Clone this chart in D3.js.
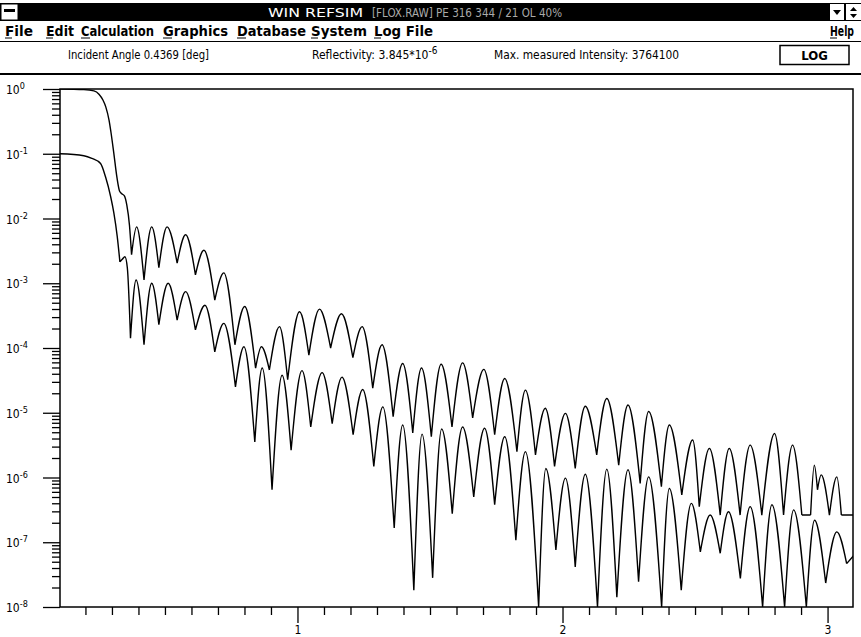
<!DOCTYPE html>
<html>
<head>
<meta charset="utf-8">
<script src="https://cdn.jsdelivr.net/npm/d3@7"></script>
<style>
  body { margin: 0; background: #fff; }
  text { font-family: "Liberation Sans Narrow", "DejaVu Sans Condensed", "Liberation Sans", sans-serif; }
</style>
</head>
<body>
<svg id="chart" width="861" height="637"></svg>
<script>
// DATA (angle in deg, reflectivity as log10 value)

const measuredAngle = [0.100, 0.194, 0.232, 0.251, 0.266, 0.277, 0.289, 0.296, 0.307, 0.319, 0.329, 0.338, 0.347, 0.356, 0.366,
  0.374, 0.393, 0.421, 0.450, 0.477, 0.508, 0.546, 0.578, 0.615, 0.647, 0.688, 0.722, 0.764, 0.801, 0.842, 0.864, 0.894, 0.932,
  0.963, 1.008, 1.043, 1.083, 1.125, 1.166, 1.209, 1.244, 1.284, 1.319, 1.361, 1.397, 1.435, 1.468, 1.505, 1.542, 1.583, 1.623,
  1.661, 1.703, 1.744, 1.782, 1.828, 1.860, 1.898, 1.935, 1.970, 2.011, 2.048, 2.086, 2.129, 2.167, 2.212, 2.247, 2.293, 2.325,
  2.373, 2.403, 2.450, 2.491, 2.516, 2.554, 2.595, 2.629, 2.670, 2.708, 2.752, 2.800, 2.834, 2.868, 2.903, 2.936, 2.950, 2.962,
  2.976, 3.007, 3.035, 3.052, 3.100]
const measuredLogR = [0, -0.01, -0.03, -0.08, -0.17, -0.28, -0.48, -0.66, -0.99, -1.37, -1.58, -1.62, -1.65, -1.79, -2.10,
  -2.56, -2.13, -2.95, -2.13, -2.76, -2.13, -2.69, -2.25, -2.87, -2.49, -3.26, -2.84, -3.95, -3.36, -4.31, -3.98, -4.34, -3.67,
  -4.49, -3.44, -4.11, -3.40, -4.00, -3.47, -4.15, -3.67, -4.62, -3.95, -5.06, -4.24, -5.31, -4.31, -5.37, -4.25, -5.22, -4.23,
  -5.08, -4.33, -5.34, -4.47, -5.60, -4.65, -5.65, -4.93, -5.83, -5.01, -5.86, -4.90, -5.65, -4.78, -5.81, -4.88, -6.09, -4.98,
  -6.14, -5.19, -6.27, -5.42, -6.45, -5.55, -6.58, -5.55, -6.58, -5.50, -6.58, -5.32, -6.58, -5.50, -6.58, -6.58, -5.81, -6.19,
  -5.96, -6.58, -5.99, -6.58, -6.58]

const simAngle = [0.100, 0.194, 0.224, 0.257, 0.276, 0.295, 0.307, 0.320, 0.330, 0.339, 0.349, 0.358,
  0.370, 0.391, 0.421, 0.450, 0.477, 0.512, 0.546, 0.578, 0.615, 0.651, 0.688, 0.722, 0.766, 0.798, 0.839, 0.867, 0.904, 0.942,
  0.976, 1.017, 1.050, 1.093, 1.131, 1.168, 1.210, 1.246, 1.288, 1.322, 1.365, 1.397, 1.439, 1.470, 1.510, 1.544, 1.584, 1.623,
  1.665, 1.706, 1.744, 1.782, 1.824, 1.860, 1.910, 1.937, 1.975, 2.011, 2.048, 2.086, 2.132, 2.167, 2.205, 2.247, 2.287, 2.325,
  2.374, 2.403, 2.448, 2.486, 2.520, 2.557, 2.595, 2.626, 2.671, 2.708, 2.755, 2.790, 2.838, 2.872, 2.920, 2.951, 2.993, 3.035,
  3.072, 3.100]
const simLogR = [-1.00, -1.03, -1.07, -1.15, -1.36, -1.66, -1.91, -2.28, -2.67, -2.63, -2.59, -2.76,
  -3.85, -2.95, -3.95, -3.00, -3.64, -3.00, -3.57, -3.13, -3.72, -3.34, -4.06, -3.62, -4.60, -3.98, -5.45, -4.31, -6.19, -4.42,
  -5.58, -4.35, -5.22, -4.38, -5.17, -4.45, -5.34, -4.64, -5.83, -4.91, -6.78, -5.19, -7.74, -5.33, -7.55, -5.25, -6.56, -5.22,
  -6.30, -5.24, -6.42, -5.37, -6.97, -5.60, -8.00, -5.86, -7.12, -6.01, -7.38, -5.95, -8.00, -5.87, -7.85, -5.88, -7.61, -5.99,
  -8.00, -6.17, -7.74, -6.40, -7.15, -6.58, -7.17, -6.53, -7.56, -6.45, -8.00, -6.42, -8.00, -6.50, -8.00, -6.66, -7.63, -6.84,
  -7.33, -7.20]

const yExponents = [0, -1, -2, -3, -4, -5, -6, -7, -8]
const xLabels = [1, 2, 3]
const menuItems = ["File", "Edit", "Calculation", "Graphics", "Database", "System", "Log File"]
const menuLeft = [5, 46, 81, 163, 237, 311, 374]
const menuWidth = [28, 28, 73, 65, 69, 56, 59]

const svg = d3.select("#chart")

// window chrome
svg.append("rect").attr("x", 0).attr("y", 3).attr("width", 861).attr("height", 18).attr("fill", "#000")
svg.append("rect").attr("x", 1).attr("y", 4).attr("width", 17).attr("height", 16).attr("fill", "#fff").attr("stroke", "#000")
svg.append("rect").attr("x", 4).attr("y", 9).attr("width", 11).attr("height", 3).attr("fill", "#000")
svg.append("rect").attr("x", 830).attr("y", 4).attr("width", 14).attr("height", 16).attr("fill", "#fff")
svg.append("rect").attr("x", 846).attr("y", 4).attr("width", 15).attr("height", 16).attr("fill", "#fff")
svg.append("path").attr("d", "M833,10 L841,10 L837,15 Z").attr("fill", "#000")
svg.append("path").attr("d", "M850,11 L857,11 L853.5,7 Z M850,14 L857,14 L853.5,18 Z").attr("fill", "#000")

svg.append("text").attr("x", 268).attr("y", 17).attr("fill", "#fff").attr("font-size", 13)
  .attr("textLength", 95).attr("lengthAdjust", "spacingAndGlyphs").text("WIN REFSIM")
svg.append("text").attr("x", 372).attr("y", 17).attr("fill", "#aaa").attr("font-size", 13)
  .attr("textLength", 190).attr("lengthAdjust", "spacingAndGlyphs").text("[FLOX.RAW]   PE 316 344 / 21 OL 40%")

const menu = svg.append("g")
menuItems.forEach((m, i) => {
  menu.append("text").attr("x", menuLeft[i]).attr("y", 36).attr("font-size", 14).attr("font-weight", "bold")
    .attr("textLength", menuWidth[i]).attr("lengthAdjust", "spacingAndGlyphs").text(m)
  menu.append("line").attr("x1", menuLeft[i]).attr("x2", menuLeft[i] + (m[0] === "C" || m[0] === "G" || m[0] === "D" ? 9 : 7))
    .attr("y1", 38).attr("y2", 38).attr("stroke", "#000")
})
menu.append("text").attr("x", 830).attr("y", 36).attr("font-size", 14).attr("font-weight", "bold")
  .attr("textLength", 24).attr("lengthAdjust", "spacingAndGlyphs").text("Help")
menu.append("line").attr("x1", 830).attr("x2", 837).attr("y1", 38).attr("y2", 38).attr("stroke", "#000")
svg.append("line").attr("x1", 0).attr("x2", 861).attr("y1", 41.5).attr("y2", 41.5).attr("stroke", "#000")

svg.append("text").attr("x", 68).attr("y", 59).attr("font-size", 12)
  .attr("textLength", 141).attr("lengthAdjust", "spacingAndGlyphs").text("Incident Angle 0.4369 [deg]")
const refl = svg.append("text").attr("x", 312).attr("y", 59).attr("font-size", 12)
refl.append("tspan").text("Reflectivity: 3.845*10")
refl.append("tspan").attr("dy", -5).attr("font-size", 10).text("-6")
svg.append("text").attr("x", 494).attr("y", 59).attr("font-size", 12)
  .attr("textLength", 185).attr("lengthAdjust", "spacingAndGlyphs").text("Max. measured Intensity: 3764100")
svg.append("rect").attr("x", 780).attr("y", 45.5).attr("width", 69).attr("height", 19).attr("fill", "none")
  .attr("stroke", "#000").attr("stroke-width", 1.5)
svg.append("text").attr("x", 814.5).attr("y", 60).attr("text-anchor", "middle").attr("font-size", 13)
  .attr("font-weight", "bold").text("LOG")
svg.append("line").attr("x1", 0).attr("x2", 861).attr("y1", 74).attr("y2", 74).attr("stroke", "#000").attr("stroke-width", 2)

// scales
const x = d3.scaleLinear().domain([0.104, 3.096]).range([60, 853])
const y = d3.scaleLog().domain([1e-8, 1]).range([607, 89])

// axes
const minorX = d3.range(2, 31).map(d => d / 10).filter(d => d % 1 !== 0)
svg.append("g").attr("transform", "translate(0,607)")
  .call(d3.axisBottom(x).tickValues(minorX).tickSize(8).tickSizeOuter(0).tickFormat(""))
  .call(g => g.select(".domain").remove())
svg.append("g").attr("transform", "translate(0,607)")
  .call(d3.axisBottom(x).tickValues(xLabels).tickSize(16).tickSizeOuter(0).tickPadding(2).tickFormat(d3.format("d")))
  .call(g => g.select(".domain").remove())
  .call(g => g.selectAll("text").attr("font-size", 12).attr("fill", "#000")
    .style("font-family", '"Liberation Sans Narrow", "DejaVu Sans Condensed", sans-serif'))

const minorY = []
yExponents.slice(1).forEach(e => { for (let k = 2; k <= 9; k++) minorY.push(k * Math.pow(10, e)) })
svg.append("g").attr("transform", "translate(60,0)")
  .call(d3.axisLeft(y).tickValues(minorY).tickSize(8).tickSizeOuter(0).tickFormat(""))
  .call(g => g.select(".domain").remove())
svg.append("g").attr("transform", "translate(60,0)")
  .call(d3.axisLeft(y).tickValues(yExponents.map(e => Math.pow(10, e))).tickSize(17).tickSizeOuter(0).tickFormat(""))
  .call(g => g.select(".domain").remove())
svg.selectAll(".tick line").attr("stroke", "#000").attr("stroke-width", 1.3)

const yLab = svg.append("g").selectAll("text").data(yExponents).join("text")
  .attr("x", 6).attr("y", d => y(Math.pow(10, d)) + 5).attr("font-size", 12)
yLab.append("tspan").text("10")
yLab.append("tspan").attr("dy", -5).attr("font-size", 9).text(d => d === 0 ? "0" : "-" + Math.abs(d))

svg.append("rect").attr("x", 60).attr("y", 89).attr("width", 793).attr("height", 518)
  .attr("fill", "none").attr("stroke", "#000").attr("stroke-width", 1.5)

// curves: round maxima, cusp minima (split the monotone curve at every minimum)
function cuspPath(xs, ls) {
  const pts = xs.map((a, i) => [x(a), y(Math.pow(10, ls[i]))])
  const cuts = [0]
  for (let i = 1; i < pts.length - 1; i++) {
    const p = pts[i][1], a = pts[i - 1][1], b = pts[i + 1][1]
    if ((p > a && p >= b) || (p >= a && p > b)) cuts.push(i)
  }
  cuts.push(pts.length - 1)
  const line = d3.line().curve(d3.curveMonotoneX)
  let d = ""
  for (let k = 0; k < cuts.length - 1; k++) d += line(pts.slice(cuts[k], cuts[k + 1] + 1))
  return d
}

svg.append("clipPath").attr("id", "plot").append("rect").attr("x", 60).attr("y", 89).attr("width", 793).attr("height", 518)
const curves = svg.append("g").attr("clip-path", "url(#plot)")
curves.append("path").attr("d", cuspPath(measuredAngle, measuredLogR))
  .attr("fill", "none").attr("stroke", "#000").attr("stroke-width", 1.4)
curves.append("path").attr("d", cuspPath(simAngle, simLogR))
  .attr("fill", "none").attr("stroke", "#000").attr("stroke-width", 1.4)
</script>
</body>
</html>
